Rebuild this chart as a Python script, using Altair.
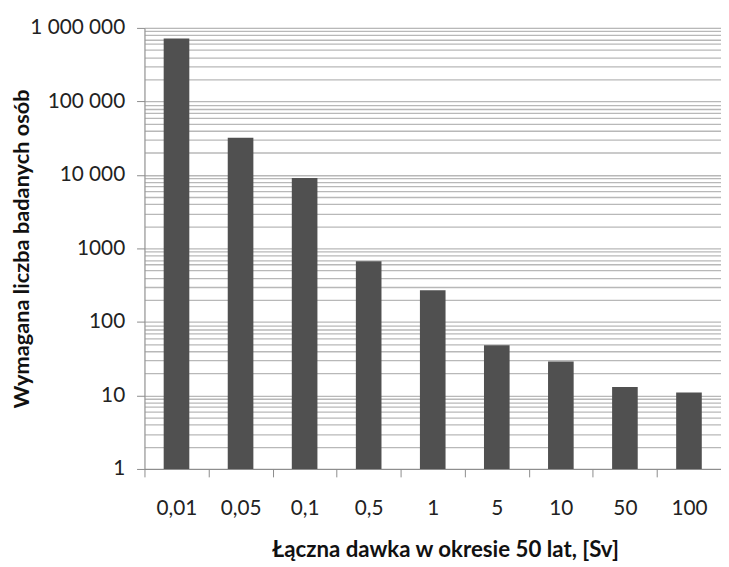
import altair as alt
import pandas as pd

doses = ["0,01", "0,05", "0,1", "0,5", "1", "5", "10", "50", "100"]
counts = [720000, 32000, 9100, 670, 270, 48, 29, 13, 11]

decades = [1, 10, 100, 1000, 10000, 100000, 1000000]
decade_labels = ["1", "10", "100", "1000", "10 000", "100 000", "1 000 000"]
minor_mult = [2, 3, 4, 5, 6, 7, 8, 9]

grid_values = list(decades) + [m * d for d in decades[:-1] for m in minor_mult]

df = pd.DataFrame({"dose": doses, "people": counts, "base": [1] * len(doses)})

label_expr = "".join(
    f"datum.value == {v} ? '{l}' : " for v, l in zip(decades, decade_labels)
) + "''"
decade_test = " || ".join(f"datum.value == {v}" for v in decades)

FONT = "Lato"

chart = (
    alt.Chart(df)
    .mark_bar(color="#505050", width=alt.RelativeBandSize(0.4))
    .encode(
        x=alt.X(
            "dose:N",
            sort=doses,
            scale=alt.Scale(paddingInner=0, paddingOuter=0),
            axis=alt.Axis(
                title="Łączna dawka w okresie 50 lat, [Sv]",
                labelAngle=0,
                tickBand="extent",
                tickSize=8,
                tickColor="#8c8c8c",
                domainColor="#8c8c8c",
                labelPadding=21,
                titleX=304,
                titleY=89,
                titleBaseline="alphabetic",
                labelFont=FONT,
                labelFontSize=21,
                labelColor="#222222",
                titleFont=FONT,
                titleFontSize=22.5,
                titleFontWeight="bold",
                titleColor="#111111",
                grid=False,
            ),
        ),
        y=alt.Y(
            "people:Q",
            stack=None,
            scale=alt.Scale(type="log", domain=[1, 1000000], nice=False),
            axis=alt.Axis(
                title="Wymagana liczba badanych osób",
                values=grid_values,
                labelExpr=label_expr,
                labelOverlap=False,
                tickSize=8,
                tickColor="#8c8c8c",
                tickOpacity={"condition": {"test": decade_test, "value": 1}, "value": 0},
                domainColor="#8c8c8c",
                grid=True,
                gridColor="#b8b8b8",
                gridWidth=1.3,
                labelPadding=12,
                titleX=-124,
                titleY=223,
                titleBaseline="middle",
                titleAngle=270,
                labelFont=FONT,
                labelFontSize=21,
                labelColor="#222222",
                titleFont=FONT,
                titleFontSize=22,
                titleFontWeight="bold",
                titleColor="#111111",
            ),
        ),
        y2="base:Q",
    )
    .properties(
        width=583,
        height=446,
        autosize=alt.AutoSizeParams(type="none"),
        padding={"left": 138, "top": 17, "right": 0, "bottom": 94},
    )
    .configure_view(stroke=None)
    .configure(background="white")
)

chart.save("out.html", embed_options={"renderer": "svg", "actions": False})
